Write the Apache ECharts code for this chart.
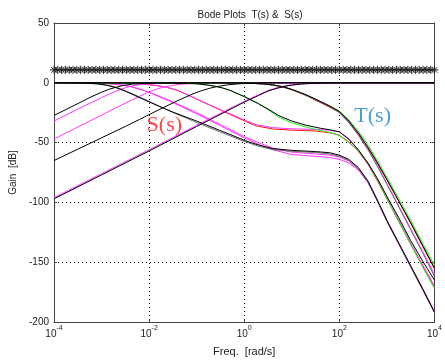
<!DOCTYPE html>
<html>
<head>
<meta charset="utf-8">
<script src="https://cdn.jsdelivr.net/npm/echarts@6/dist/echarts.min.js"></script>
<style>html,body{margin:0;padding:0;background:#fff}#c{width:445px;height:362px}</style>
</head>
<body>
<div id="c"></div>
<script>
// x values are log10(frequency [rad/s]); y values are gain [dB]
const xTicks = [-4, -2, 0, 2, 4];
const yTicks = [-200, -150, -100, -50, 0, 50];

// Sensitivity curves S(s)
const sA_black = [[-4,-27.3],[-3.5,-17.4],[-3.2,-11.4],[-3.0,-7.9],[-2.85,-5.5],[-2.7,-3.8],[-2.55,-2.2],[-2.35,-1.1],[-2.1,-0.4],[-1.7,-0.15],[-1,0],[4,0]];
const sB_magenta = [[-4,-32],[-3.5,-22],[-3.2,-16.2],[-3.0,-12.4],[-2.8,-8.7],[-2.6,-5.5],[-2.45,-3.6],[-2.3,-2.2],[-2.1,-1.1],[-1.85,-0.5],[-1.5,-0.15],[-1,0],[4,0]];
const sC_magenta = [[-4,-47],[-3.5,-37],[-3,-27],[-2.5,-17],[-2.2,-11.2],[-2.0,-7.6],[-1.85,-5.5],[-1.7,-3.6],[-1.55,-2.4],[-1.35,-1.25],[-1.1,-0.5],[-0.8,-0.15],[0,0],[4,0]];
const sD_black = [[-4,-65],[-3.5,-55.5],[-3,-46],[-2.5,-36.5],[-2.2,-30.6],[-1.8,-22.6],[-1.36,-14.2],[-1.1,-9.6],[-0.9,-6.6],[-0.7,-4.3],[-0.55,-3],[-0.35,-1.7],[-0.1,-0.8],[0.3,-0.2],[1,0],[4,0]];
const sE_magenta = [[-4,-96],[-3,-76],[-2,-56],[-1,-35.5],[0,-15.5],[0.3,-10],[0.5,-6.5],[0.65,-4.5],[0.8,-3],[0.95,-1.9],[1.2,-0.9],[1.5,-0.3],[2,0],[4,0]];
const sE_black = [[-4,-97],[-3,-77],[-2,-57],[-1,-36.5],[0,-16.2],[0.3,-10.6],[0.5,-6.9],[0.7,-4.5],[0.85,-3],[1,-2],[1.2,-1],[1.5,-0.35],[2,0],[4,0]];

// Complementary sensitivity curves T(s) - lower plateau group
const tL_black = [[-4,0],[-3.4,-0.2],[-3.1,-0.8],[-2.9,-2],[-2.7,-4],[-2.5,-7],[-2.14,-13.5],[-1.8,-19.5],[-1.5,-24.5],[-1,-32],[-0.5,-40],[0,-48],[0.1,-49.5],[0.3,-52],[0.6,-55],[1,-56.5],[1.5,-57.5],[1.8,-58.5],[2,-60.5],[2.2,-64],[2.4,-71],[2.6,-82],[2.8,-98],[3,-115],[3.25,-134],[3.5,-153],[3.75,-172],[4,-192]];
const tL_gray = [[-4,0],[-3.3,-0.3],[-3.0,-1.2],[-2.8,-2.6],[-2.6,-5],[-2.3,-10],[-2,-15.5],[-1.5,-24.8],[-1,-33.2],[-0.5,-41.2],[0,-49],[0.3,-53],[0.6,-55.8],[1,-57.3],[1.5,-58.3],[1.8,-59.5],[2,-61.5],[2.2,-65],[2.4,-72],[2.6,-83],[2.8,-99],[3,-116],[3.25,-135],[3.5,-154],[3.75,-173],[4,-192]];
const tL_magenta1 = [[-4,0],[-3.0,-0.3],[-2.7,-1.2],[-2.4,-3],[-2.1,-6.5],[-1.8,-11],[-1.5,-16],[-1,-25],[-0.5,-35],[0,-45],[0.3,-50],[0.6,-54.5],[1,-58],[1.5,-59.5],[1.8,-60.5],[2,-62],[2.2,-65.5],[2.4,-72],[2.6,-82.5],[2.8,-98.5],[3,-115.5],[3.25,-134.5],[3.5,-153.5],[3.75,-172],[4,-191]];
const tL_magenta2 = [[-4,0],[-3.0,-0.3],[-2.7,-1.2],[-2.4,-3],[-2.1,-6.5],[-1.8,-11.5],[-1.5,-16.5],[-1,-26],[-0.5,-36],[0,-46],[0.3,-51.5],[0.6,-56],[1,-60],[1.5,-61.5],[1.8,-62.5],[2,-64],[2.2,-67],[2.4,-73],[2.6,-83.5],[2.8,-99],[3,-116],[3.25,-135],[3.5,-154],[3.75,-173],[4,-192]];

// T(s) - upper plateau group
const tU_black = [[-4,0],[-1.5,-0.2],[-1.0,-0.8],[-0.75,-2],[-0.6,-3],[-0.45,-4.4],[-0.3,-6.3],[0,-11.5],[0.3,-17.5],[0.5,-22],[0.73,-27.5],[1.0,-32],[1.3,-35.5],[1.6,-38],[1.8,-39.3],[2.0,-41],[2.2,-47],[2.4,-56],[2.6,-67],[2.8,-80],[3,-95],[3.25,-113],[3.5,-132],[3.75,-149],[4,-165]];
const tU_green = [[-4,0],[-1.5,-0.2],[-1.0,-0.8],[-0.75,-2],[-0.6,-3],[-0.45,-4.4],[-0.3,-6.3],[0,-11.5],[0.3,-17.5],[0.5,-22.5],[0.73,-28.8],[1.0,-33.5],[1.3,-37],[1.6,-40],[1.8,-41.5],[2.0,-44],[2.2,-50],[2.4,-57],[2.6,-67],[2.8,-81],[3,-97],[3.25,-116],[3.5,-135],[3.75,-154],[4,-172]];
const tU_magenta = [[-4,0],[-2.6,-0.2],[-2.2,-0.8],[-1.9,-2],[-1.65,-3.5],[-1.4,-6.3],[-1,-13.5],[-0.5,-22.5],[0,-31],[0.25,-35],[0.6,-37.5],[1,-38.5],[1.5,-39],[1.8,-39.6],[2,-41],[2.2,-47.5],[2.4,-56.5],[2.6,-67.5],[2.8,-81],[3,-96],[3.25,-115],[3.5,-134],[3.75,-152],[4,-170]];
const tU_red = [[-4,0],[-2.6,-0.2],[-2.2,-0.8],[-1.9,-2],[-1.65,-3.5],[-1.4,-6.4],[-1,-13.7],[-0.5,-22.8],[0,-31.8],[0.25,-36],[0.6,-38.6],[1,-39.6],[1.5,-40.3],[1.8,-41.8],[2,-43.8],[2.2,-49.5],[2.4,-57.5],[2.6,-68],[2.8,-82],[3,-97],[3.25,-116],[3.5,-135],[3.75,-153],[4,-171]];

// T(s) - top group
const tT_black = [[-4,0],[0,-0.2],[0.4,-0.9],[0.6,-1.8],[0.8,-3.2],[1.0,-5.5],[1.3,-10],[1.57,-15],[1.8,-19.5],[2,-24],[2.2,-32],[2.4,-42],[2.6,-54],[2.8,-67],[3,-81],[3.25,-99],[3.5,-117],[3.75,-136],[4,-155]];
const tT_gray = [[-4,0],[0,-0.2],[0.4,-0.9],[0.6,-1.9],[0.8,-3.4],[1.0,-5.8],[1.3,-10.5],[1.57,-15.5],[1.8,-20],[2,-25],[2.2,-33.5],[2.4,-44],[2.6,-56],[2.8,-70],[3,-85],[3.25,-104],[3.5,-123],[3.75,-142],[4,-162]];
const tT_green = [[-4,0],[0,-0.2],[0.4,-0.9],[0.6,-1.8],[0.8,-3.2],[1.0,-5.5],[1.3,-10],[1.57,-15],[1.8,-19.3],[2,-23.5],[2.2,-31],[2.4,-40.5],[2.6,-52],[2.8,-65],[3,-79],[3.25,-97],[3.5,-115],[3.75,-134],[4,-152.5]];
const tT_red = [[-4,0],[0,-0.2],[0.4,-0.9],[0.6,-1.8],[0.8,-3.3],[1.0,-5.8],[1.3,-10.6],[1.57,-16],[1.8,-20.5],[2,-24.5],[2.2,-32.5],[2.4,-42.5],[2.6,-54],[2.8,-67],[3,-81],[3.25,-99],[3.5,-117.5],[3.75,-136.5],[4,-155.5]];
const tT_magenta = [[-4,0],[0,-0.2],[0.4,-0.9],[0.6,-1.8],[0.8,-3.2],[1.0,-5.6],[1.3,-10.2],[1.57,-15.2],[1.8,-19.8],[2,-24.5],[2.2,-33],[2.4,-43.5],[2.6,-55.5],[2.8,-69],[3,-84],[3.25,-103],[3.5,-122],[3.75,-141],[4,-160]];

// Bound line drawn with '*' markers
const starFreq = [-4,-3.92,-3.84,-3.76,-3.68,-3.6,-3.52,-3.44,-3.36,-3.28,-3.2,-3.12,-3.04,-2.96,-2.88,-2.8,-2.72,-2.64,-2.56,-2.48,-2.4,-2.32,-2.24,-2.16,-2.08,-2,-1.92,-1.84,-1.76,-1.68,-1.6,-1.52,-1.44,-1.36,-1.28,-1.2,-1.12,-1.04,-0.96,-0.88,-0.8,-0.72,-0.64,-0.56,-0.48,-0.4,-0.32,-0.24,-0.16,-0.08,0,0.08,0.16,0.24,0.32,0.4,0.48,0.56,0.64,0.72,0.8,0.88,0.96,1.04,1.12,1.2,1.28,1.36,1.44,1.52,1.6,1.68,1.76,1.84,1.92,2,2.08,2.16,2.24,2.32,2.4,2.48,2.56,2.64,2.72,2.8,2.88,2.96,3.04,3.12,3.2,3.28,3.36,3.44,3.52,3.6,3.68,3.76,3.84,3.92,4];
const starLevel = 10.8;

// Text annotations (log10 freq, dB)
const annotations = [
  {text: 'S(s)', x: -1.68, y: -35.5, color: '#ff1a1a'},
  {text: 'T(s)', x: 2.70, y: -28, color: '#1a88cc'}
];

const C = {black: '#000000', gray: '#6e6e6e', magenta: '#ff33ff', red: '#ff1010', green: '#22ee22'};
const curves = [
  [tU_red, C.red], [tT_red, C.red],
  [sB_magenta, C.magenta], [sC_magenta, C.magenta], [sE_magenta, C.magenta],
  [tL_magenta1, C.magenta], [tL_magenta2, C.magenta], [tU_magenta, C.magenta], [tT_magenta, C.magenta],
  [tU_green, C.green], [tT_green, C.green],
  [tL_gray, C.gray], [tT_gray, C.gray],
  [tU_black, C.black], [tL_black, C.black], [tT_black, C.black],
  [sA_black, C.black], [sD_black, C.black], [sE_black, C.black]
];

const FONT = 'Liberation Sans, Arial, sans-serif';
const series = curves.map(([d, col]) => ({
  type: 'line', data: d, showSymbol: false, symbol: 'none', silent: true,
  lineStyle: {color: col, width: 1}, animation: false, z: 3
}));
series.push({
  type: 'line', data: starFreq.map(f => [f, starLevel]), silent: true, animation: false,
  showSymbol: true, showAllSymbol: true, symbolSize: 8,
  symbol: 'path://M5,0L5,10M0,5L10,5M1.5,1.5L8.5,8.5M1.5,8.5L8.5,1.5',
  itemStyle: {color: 'none', borderColor: '#222', borderWidth: 1},
  lineStyle: {color: '#000', width: 1}, z: 4
});
series.push({
  type: 'scatter', silent: true, animation: false, symbolSize: 0, z: 5,
  data: annotations.map(a => ({value: [a.x, a.y], label: {show: true, position: 'inside', formatter: a.text, color: a.color,
    fontFamily: 'Liberation Serif, Times New Roman, serif', fontSize: 22}}))
});

const axisCommon = {
  type: 'value', axisLine: {show: true, onZero: false, lineStyle: {color: '#444', width: 1}},
  axisTick: {show: true, inside: true, length: 3, lineStyle: {color: '#444'}},
};
const option = {
  animation: false,
  title: {text: 'Bode Plots  T(s) &  S(s)', left: 245, top: 5, textAlign: 'center',
    textStyle: {fontFamily: FONT, fontSize: 10, fontWeight: 'normal', color: '#222'}},
  grid: {left: 54, right: 9, top: 23, bottom: 38, show: false},
  xAxis: [
    Object.assign({}, axisCommon, {
      min: -4, max: 4, interval: 2, position: 'bottom',
      name: 'Freq.  [rad/s]', nameLocation: 'middle', nameGap: 24,
      nameTextStyle: {fontFamily: FONT, fontSize: 11, color: '#222'},
      splitLine: {show: true, lineStyle: {color: '#000', width: 1, type: [1, 3]}},
      axisLabel: {margin: 3, showMinLabel: true, showMaxLabel: true,
        formatter: v => '{b|10}{s|' + v + '}',
        rich: {b: {fontFamily: FONT, fontSize: 10, color: '#222', lineHeight: 14, verticalAlign: 'bottom'},
               s: {fontFamily: FONT, fontSize: 7, color: '#222', lineHeight: 14, verticalAlign: 'top'}}}
    }),
    Object.assign({}, axisCommon, {
      min: -4, max: 4, interval: 2, position: 'top',
      splitLine: {show: false}, axisLabel: {show: false}
    })
  ],
  yAxis: [
    Object.assign({}, axisCommon, {
      min: -200, max: 50, interval: 50, position: 'left',
      name: 'Gain  [dB]', nameLocation: 'middle', nameGap: 22, nameRotate: 90,
      nameTextStyle: {fontFamily: FONT, fontSize: 10, color: '#222'},
      splitLine: {show: true, lineStyle: {color: '#000', width: 1, type: [1, 3]}},
      axisLabel: {margin: 5, fontFamily: FONT, fontSize: 10, color: '#222'}
    }),
    Object.assign({}, axisCommon, {
      min: -200, max: 50, interval: 50, position: 'right',
      splitLine: {show: false}, axisLabel: {show: false}
    })
  ],
  series: series
};
const chart = echarts.init(document.getElementById('c'), null, {renderer: 'canvas'});
chart.setOption(option);
</script>
</body>
</html>
